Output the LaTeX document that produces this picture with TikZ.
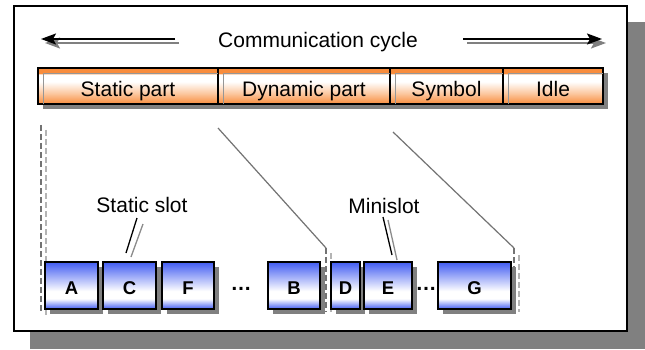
\documentclass[tikz,border=0pt]{standalone}
\usepackage{fontspec}
\setmainfont{Liberation Sans}
\usetikzlibrary{arrows.meta,shadows}

\definecolor{shadowgray}{RGB}{128,128,128}
\definecolor{barorange}{RGB}{248,140,60}
\definecolor{barpeach}{RGB}{252,200,160}
\definecolor{slotblue}{RGB}{66,92,242}
\definecolor{dashgray}{RGB}{115,115,115}
\definecolor{lightdash}{RGB}{180,180,180}
\definecolor{innergray}{RGB}{150,150,150}
\definecolor{leadergray}{RGB}{140,140,140}

% orange band: top stripe, white body, orange towards the bottom
\pgfdeclareverticalshading{barshade}{100bp}{%
  color(0bp)=(barorange); color(25bp)=(barorange); color(40bp)=(barpeach);
  color(56bp)=(white); color(66bp)=(white); color(68bp)=(barorange);
  color(75bp)=(barorange); color(100bp)=(barorange)}
% blue slot: blue top, fading to white low down, blue bottom edge
\pgfdeclareverticalshading{boxshade}{100bp}{%
  color(0bp)=(slotblue); color(25bp)=(slotblue); color(36bp)=(white);
  color(44bp)=(white); color(75bp)=(slotblue); color(100bp)=(slotblue)}

\newcommand\labelfont{\fontsize{21}{25}\selectfont}
\newcommand\slotfont{\fontsize{18.5}{22}\selectfont\bfseries}

\begin{document}
\begin{tikzpicture}[x=1pt,y=-1pt,
  framebox/.style={draw=black, line width=2pt, fill=white},
  boxshadow/.style={drop shadow={shadow xshift=5pt, shadow yshift=-5pt,
      fill=shadowgray, opacity=1}},
  seg/.style={draw=black, line width=1.2pt, shade, shading=barshade,
      minimum height=36pt, inner sep=0pt, outer sep=0pt,
      text height=22pt, text depth=0pt, font=\labelfont, boxshadow},
  seginner/.style={draw=innergray, line width=0.9pt},
  slot/.style={draw=black, line width=1.5pt, shade, shading=boxshade,
      minimum height=47pt, inner sep=0pt, outer sep=0pt,
      text height=17pt, text depth=0pt, font=\slotfont, boxshadow},
  cycarrow/.style={line width=2pt, -{Stealth[length=15pt,width=11pt,inset=3pt]}},
  guide/.style={draw=dashgray, line width=1.2pt},
  guidedash/.style={guide, dash pattern=on 6pt off 3pt},
  guideshadow/.style={draw=lightdash, line width=1.2pt, dash pattern=on 6pt off 3pt},
  leader/.style={draw=black, line width=1.3pt},
  leadershadow/.style={draw=leadergray, line width=1.3pt},
  caption/.style={anchor=base, font=\labelfont, inner sep=0pt},
  gap/.style={anchor=base, font=\labelfont\bfseries, inner sep=0pt},
]
\useasboundingbox (0,0) rectangle (645,350);

% frame with its shadow
\fill[shadowgray] (30,22) rectangle (645,349);
\draw[framebox] (14,6) rectangle (627,331);

% title and cycle arrows
\node[caption] (title) at (318,48) {Communication cycle};
\coordinate (cycLfrom) at (175,39);
\coordinate (cycLto)   at (41,39);
\coordinate (cycRfrom) at (463,39);
\coordinate (cycRto)   at (602,39);
\draw[cycarrow, shadowgray] ([shift={(4,4)}]cycLfrom) -- ([shift={(4,4)}]cycLto);
\draw[cycarrow, black] (cycLfrom) -- (cycLto);
\draw[cycarrow, shadowgray] ([shift={(4,4)}]cycRfrom) -- ([shift={(4,4)}]cycRto);
\draw[cycarrow, black] (cycRfrom) -- (cycRto);

% segments of the cycle
\node[seg, minimum width=180pt] (static)  at (128,86)   {Static part};
\node[seg, minimum width=172pt] (dynamic) at (304,86)   {Dynamic part};
\node[seg, minimum width=113pt] (symbol)  at (446.5,86) {Symbol};
\node[seg, minimum width=100pt] (idle)    at (553,86)   {Idle};
\foreach \s in {static,dynamic,symbol,idle}{
  \draw[seginner] ([shift={(5,5.5)}]\s.north west) -- ([shift={(5,0)}]\s.south west);
  \draw[seginner] ([shift={(5,5.5)}]\s.north west) -- ([shift={(0,5.5)}]\s.north east);
}

% zoom guides from the bar down to the slots
\coordinate (gLtop) at (41,125);
\coordinate (gLbot) at (41,311);
\draw[guideshadow] (46,130) -- (46,315);
\draw[guidedash] (gLtop) -- (gLbot);

\coordinate (gAtop) at (218,128);
\coordinate (gAbend) at (326,248);
\coordinate (gAbot) at (326,312);
\draw[guide] (gAtop) -- (gAbend);
\draw[guideshadow] (331,253) -- (331,312);
\draw[guidedash] (gAbend) -- (gAbot);

\coordinate (gBtop) at (393,132);
\coordinate (gBbend) at (514,248);
\coordinate (gBbot) at (514,312);
\draw[guide] (gBtop) -- (gBbend);
\draw[guideshadow] (519,255) -- (519,312);
\draw[guidedash] (gBbend) -- (gBbot);

% slot labels and their leaders
\node[caption] (staticslot) at (142,212) {Static slot};
\node[caption] (minislot)   at (384,213) {Minislot};
\coordinate (ssA) at (137,218);
\coordinate (ssB) at (126,253);
\coordinate (msA) at (383,217);
\coordinate (msB) at (392,255);
\draw[leadershadow] ([shift={(6,6)}]ssA) -- ([shift={(5,4)}]ssB);
\draw[leader] (ssA) -- (ssB);
\draw[leadershadow] ([shift={(5,3)}]msA) -- ([shift={(5,5)}]msB);
\draw[leader] (msA) -- (msB);

% slots
\node[slot, minimum width=53pt] (A) at (71.5,285.5)  {A};
\node[slot, minimum width=53pt] (C) at (129.5,285.5) {C};
\node[slot, minimum width=52pt] (F) at (188,285.5)   {F};
\node[gap] (dotsA) at (241,290) {…};
\node[slot, minimum width=52pt] (B) at (294,285.5)   {B};
\node[slot, minimum width=29pt] (D) at (345.5,285.5) {D};
\node[slot, minimum width=48pt] (E) at (388,285.5)   {E};
\node[gap] (dotsB) at (426,290) {…};
\node[slot, minimum width=73pt] (G) at (474.5,285.5) {G};
\end{tikzpicture}
\end{document}
